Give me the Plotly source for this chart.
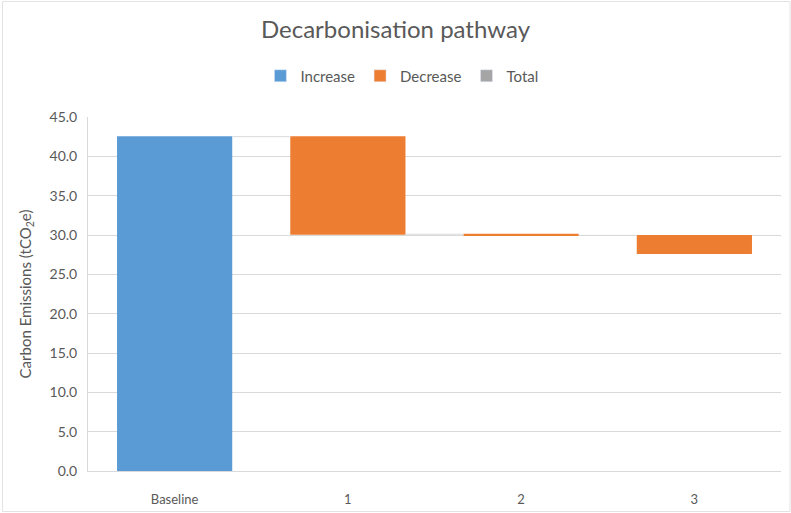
import plotly.graph_objects as go

# Decarbonisation steps (tCO2e)
categories = ["Baseline", "1", "2", "3"]
changes = [42.5, -12.4, -0.15, -2.3]
measures = ["relative", "relative", "relative", "relative"]

legend_names = ["Increase", "Decrease", "Total"]
legend_colors = ["#5B9BD5", "#ED7D31", "#A5A5A5"]

font_family = "Lato, 'Open Sans', sans-serif"
text_grey = "#595959"

# plot-area geometry in pixels (used to place the outer chart border)
W, H = 791, 513
L, R, T, B = 88, 10, 117, 42
pw, ph = W - L - R, H - T - B

fig = go.Figure()

fig.add_trace(go.Waterfall(
    x=categories,
    y=changes,
    measure=measures,
    increasing=dict(marker=dict(color=legend_colors[0])),
    decreasing=dict(marker=dict(color=legend_colors[1])),
    totals=dict(marker=dict(color=legend_colors[2])),
    connector=dict(line=dict(color="#D9D9D9", width=1)),
    showlegend=False,
    hoverinfo="x+y",
))

# Legend swatches
for name, color in zip(legend_names, legend_colors):
    fig.add_trace(go.Bar(
        x=[None], y=[None], name=name,
        marker=dict(color=color),
        showlegend=True,
    ))

# light chart-area border
fig.add_shape(
    type="rect", xref="paper", yref="paper",
    x0=(2.5 - L) / pw, x1=(W - 1 - L) / pw,
    y0=(H - B - (H - 1.5)) / ph, y1=(H - B - 1.5) / ph,
    line=dict(color="#E3E3E3", width=1),
    layer="below",
)

fig.update_layout(
    width=W, height=H,
    margin=dict(l=L, r=R, t=T, b=B),
    paper_bgcolor="white",
    plot_bgcolor="white",
    font=dict(family=font_family, color=text_grey),
    title=dict(
        text="Decarbonisation pathway",
        x=0.5, xanchor="center",
        y=1 - 30 / H, yanchor="middle",
        font=dict(size=24, color=text_grey, family=font_family),
    ),
    legend=dict(
        orientation="h",
        x=0.453, xanchor="center",
        y=(H - B - 76) / ph, yanchor="middle",
        font=dict(size=15, color=text_grey),
        itemwidth=30,
        tracegroupgap=0,
    ),
    bargap=0.335,
    waterfallgap=0.335,
    xaxis=dict(
        automargin=False,
        showgrid=False,
        showline=True,
        linecolor="#D9D9D9",
        tickfont=dict(size=13, color=text_grey),
        ticks="outside",
        ticklen=16,
        tickcolor="rgba(0,0,0,0)",
    ),
    yaxis=dict(
        automargin=False,
        range=[0, 45],
        dtick=5,
        tickformat=".1f",
        showgrid=True,
        gridcolor="#D9D9D9",
        gridwidth=1,
        zeroline=False,
        showline=True,
        linecolor="#D9D9D9",
        tickfont=dict(size=14, color=text_grey),
        ticks="outside",
        ticklen=7,
        tickcolor="rgba(0,0,0,0)",
        title=dict(
            text="Carbon Emissions (tCO<sub>2</sub>e)",
            font=dict(size=15, color=text_grey),
            standoff=14,
        ),
    ),
)

fig.write_html("out.html")
